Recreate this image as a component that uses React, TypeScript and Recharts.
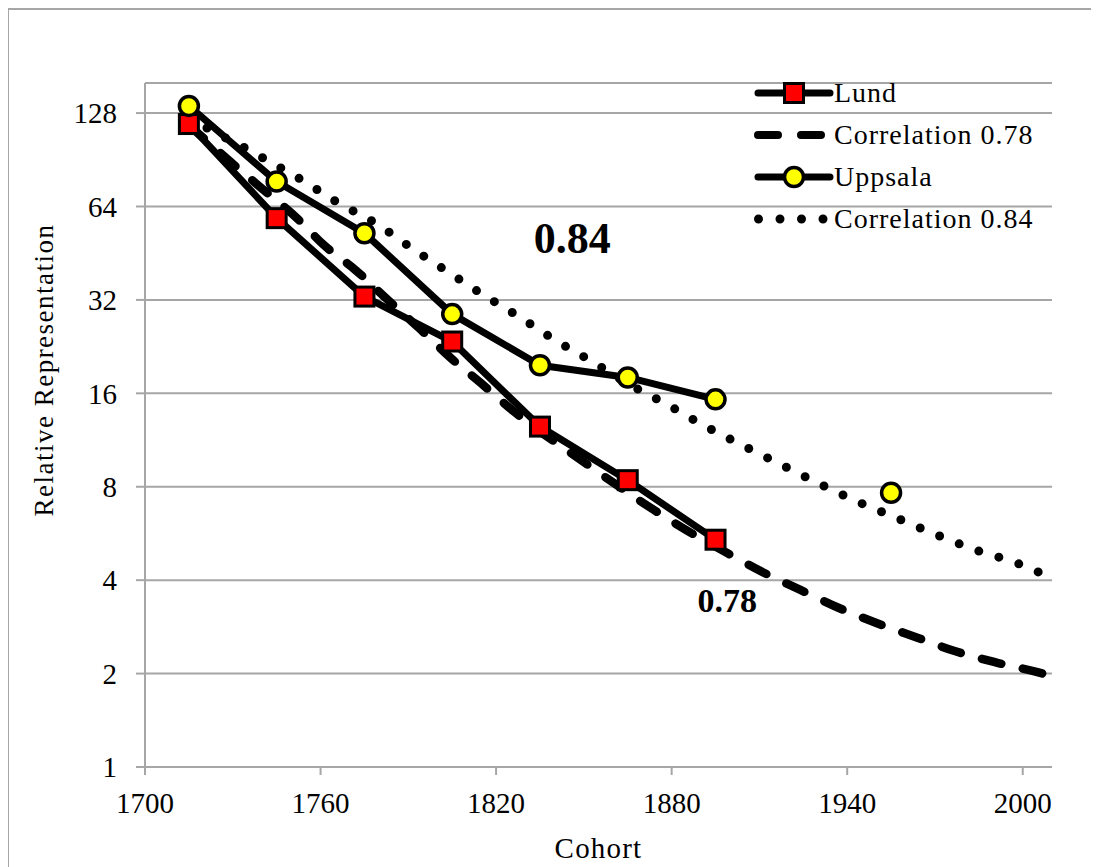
import { LineChart, Line, XAxis, YAxis, CartesianGrid, Legend, ReferenceDot } from "recharts";

// cohorts and relative representation
const lundYears = [1715, 1745, 1775, 1805, 1835, 1865, 1895];
const lundValues = [118, 58.7, 32.8, 23.5, 12.5, 8.4, 5.4];

// 1925 is a gap: the 1955 point stands on its own
const uppsalaYears = [1715, 1745, 1775, 1805, 1835, 1865, 1895, 1925, 1955];
const uppsalaValues = [135, 77, 52.5, 28.8, 19.7, 18.0, 15.3, null, 7.65];

const corr78Years = [1715, 1729, 1738, 1752, 1761, 1772, 1783, 1794, 1805, 1815, 1826, 1849, 1874, 1885, 1899, 1911, 1924, 1937, 1950, 1964, 1977, 1991, 2006, 2010];
const corr78Values = [117, 89.5, 75.8, 58.6, 48.2, 39.9, 32.0, 25.8, 20.6, 17.2, 14.0, 9.75, 6.73, 5.8, 4.89, 4.25, 3.72, 3.26, 2.91, 2.61, 2.36, 2.17, 2.01, 1.96];

const corr84Years = [1715, 1721, 1734, 1741, 1754, 1766, 1779, 1791, 1803, 1815, 1828, 1840, 1853, 1865, 1878, 1891, 1904, 1917, 1930, 1943, 1957, 1970, 1984, 1998, 2010];
const corr84Values = [124, 114.8, 99, 91, 77.5, 65.8, 56.4, 47.1, 39.7, 33.5, 28.2, 23.8, 20.2, 17.2, 14.8, 12.6, 10.9, 9.47, 8.22, 7.2, 6.34, 5.63, 5.0, 4.54, 4.06];

const xTicks = [1700, 1760, 1820, 1880, 1940, 2000];
const yTicks = [1, 2, 4, 8, 16, 32, 64, 128];

const seriesNames = ["Lund", "Correlation 0.78", "Uppsala", "Correlation 0.84"];

const annotations = [
  { text: "0.84", year: 1846, value: 51 },
  { text: "0.78", year: 1899, value: 3.45 },
];

const toRows = (years: number[], values: (number | null)[]) =>
  years.map((year, i) => ({ year, v: values[i] }));

const lundData = toRows(lundYears, lundValues);
const uppsalaData = toRows(uppsalaYears, uppsalaValues);
const corr78Data = toRows(corr78Years, corr78Values);
const corr84Data = toRows(corr84Years, corr84Values);

const FONT = "'Liberation Serif', 'Times New Roman', serif";
const GRID = "#a6a6a6";

const SquareDot = (props: any) => {
  const { cx, cy, index } = props;
  if (cx == null || cy == null) return <g key={index} />;
  return (
    <rect key={index} x={cx - 9.5} y={cy - 9.5} width={19} height={19}
      fill="#ff0000" stroke="#000" strokeWidth={3} />
  );
};

const legendIcon = (name: string) => {
  if (name === "Lund")
    return (
      <g>
        <line x1={4} y1={21} x2={76} y2={21} stroke="#000" strokeWidth={7} strokeLinecap="round" />
        <rect x={30.5} y={11.5} width={19} height={19} fill="#ff0000" stroke="#000" strokeWidth={3} />
      </g>
    );
  if (name === "Uppsala")
    return (
      <g>
        <line x1={4} y1={21} x2={76} y2={21} stroke="#000" strokeWidth={7} strokeLinecap="round" />
        <circle cx={40} cy={21} r={9.5} fill="#ffff00" stroke="#000" strokeWidth={3.5} />
      </g>
    );
  if (name === "Correlation 0.78")
    return (
      <line x1={4} y1={21} x2={72} y2={21} stroke="#000" strokeWidth={8}
        strokeLinecap="round" strokeDasharray="20 23" />
    );
  return (
    <line x1={4.5} y1={21} x2={72} y2={21} stroke="#000" strokeWidth={9}
      strokeLinecap="round" strokeDasharray="0 21.5" />
  );
};

const renderLegend = () => (
  <div style={{ fontFamily: FONT, fontSize: 28, color: "#000" }}>
    {seriesNames.map((name) => (
      <div key={name} style={{ display: "flex", alignItems: "center", height: 42 }}>
        <svg width={80} height={42} style={{ display: "block" }}>{legendIcon(name)}</svg>
        <span style={{ letterSpacing: 1, whiteSpace: "nowrap" }}>{name}</span>
      </div>
    ))}
  </div>
);

const YTitle = () => (
  <text x={36} y={362} transform="rotate(-90 36 362)" textAnchor="middle"
    dominantBaseline="central" fontFamily={FONT} fontSize={27} letterSpacing={1.5} fill="#000">
    Relative Representation
  </text>
);

export default function App() {
  return (
    <div style={{ position: "relative", width: 1091, height: 859, overflow: "hidden" }}>
      <div style={{
        position: "absolute", left: -1, top: 0, width: 1200, height: 1000,
        border: `2px solid ${GRID}`, boxSizing: "border-box",
      }} />
      <LineChart width={1091} height={859} margin={{ top: 75, right: 47, bottom: 40, left: 0 }}>
        <CartesianGrid vertical={false} stroke={GRID} strokeWidth={2} />
        <XAxis
          dataKey="year"
          type="number"
          domain={[1700, 2010]}
          ticks={xTicks}
          allowDataOverflow
          height={60}
          stroke={GRID}
          strokeWidth={2}
          tickSize={8}
          tickMargin={17}
          tick={{ fill: "#000", fontSize: 29, fontFamily: FONT }}
          label={{ value: "Cohort", position: "bottom", offset: 10, fill: "#000", fontSize: 29, fontFamily: FONT, letterSpacing: 1.2 }}
        />
        <YAxis
          scale="log"
          domain={[1, 160]}
          ticks={yTicks}
          allowDataOverflow
          width={137}
          stroke={GRID}
          strokeWidth={2}
          tickSize={9}
          tickMargin={19}
          tick={{ fill: "#000", fontSize: 29, fontFamily: FONT }}
          label={<YTitle />}
        />
        <Line data={lundData} dataKey="v" name="Lund" stroke="#000" strokeWidth={7}
          strokeLinejoin="round" dot={SquareDot} activeDot={false} isAnimationActive={false} />
        <Line data={corr78Data} dataKey="v" name="Correlation 0.78" type="monotone" stroke="#000"
          strokeWidth={8.5} strokeDasharray="20 22" strokeLinecap="round" dot={false}
          activeDot={false} isAnimationActive={false} />
        <Line data={uppsalaData} dataKey="v" name="Uppsala" stroke="#000" strokeWidth={7}
          strokeLinejoin="round" dot={{ r: 9.5, fill: "#ffff00", stroke: "#000", strokeWidth: 3.5 }}
          activeDot={false} isAnimationActive={false} />
        <Line data={corr84Data} dataKey="v" name="Correlation 0.84" type="monotone" stroke="#000"
          strokeWidth={9} strokeDasharray="0 21" strokeLinecap="round" dot={false}
          activeDot={false} isAnimationActive={false} />
        {annotations.map((a, i) => (
          <ReferenceDot key={a.text} x={a.year} y={a.value} r={0} fill="none" stroke="none"
            label={{ value: a.text, position: "center", fill: "#000", fontFamily: FONT,
              fontWeight: "bold", fontSize: i === 0 ? 44 : 34 }} />
        ))}
        <Legend content={renderLegend} layout="vertical" align="center" verticalAlign="middle"
          wrapperStyle={{ top: 64, left: 746, width: 340, height: 168 }} />
      </LineChart>
    </div>
  );
}
